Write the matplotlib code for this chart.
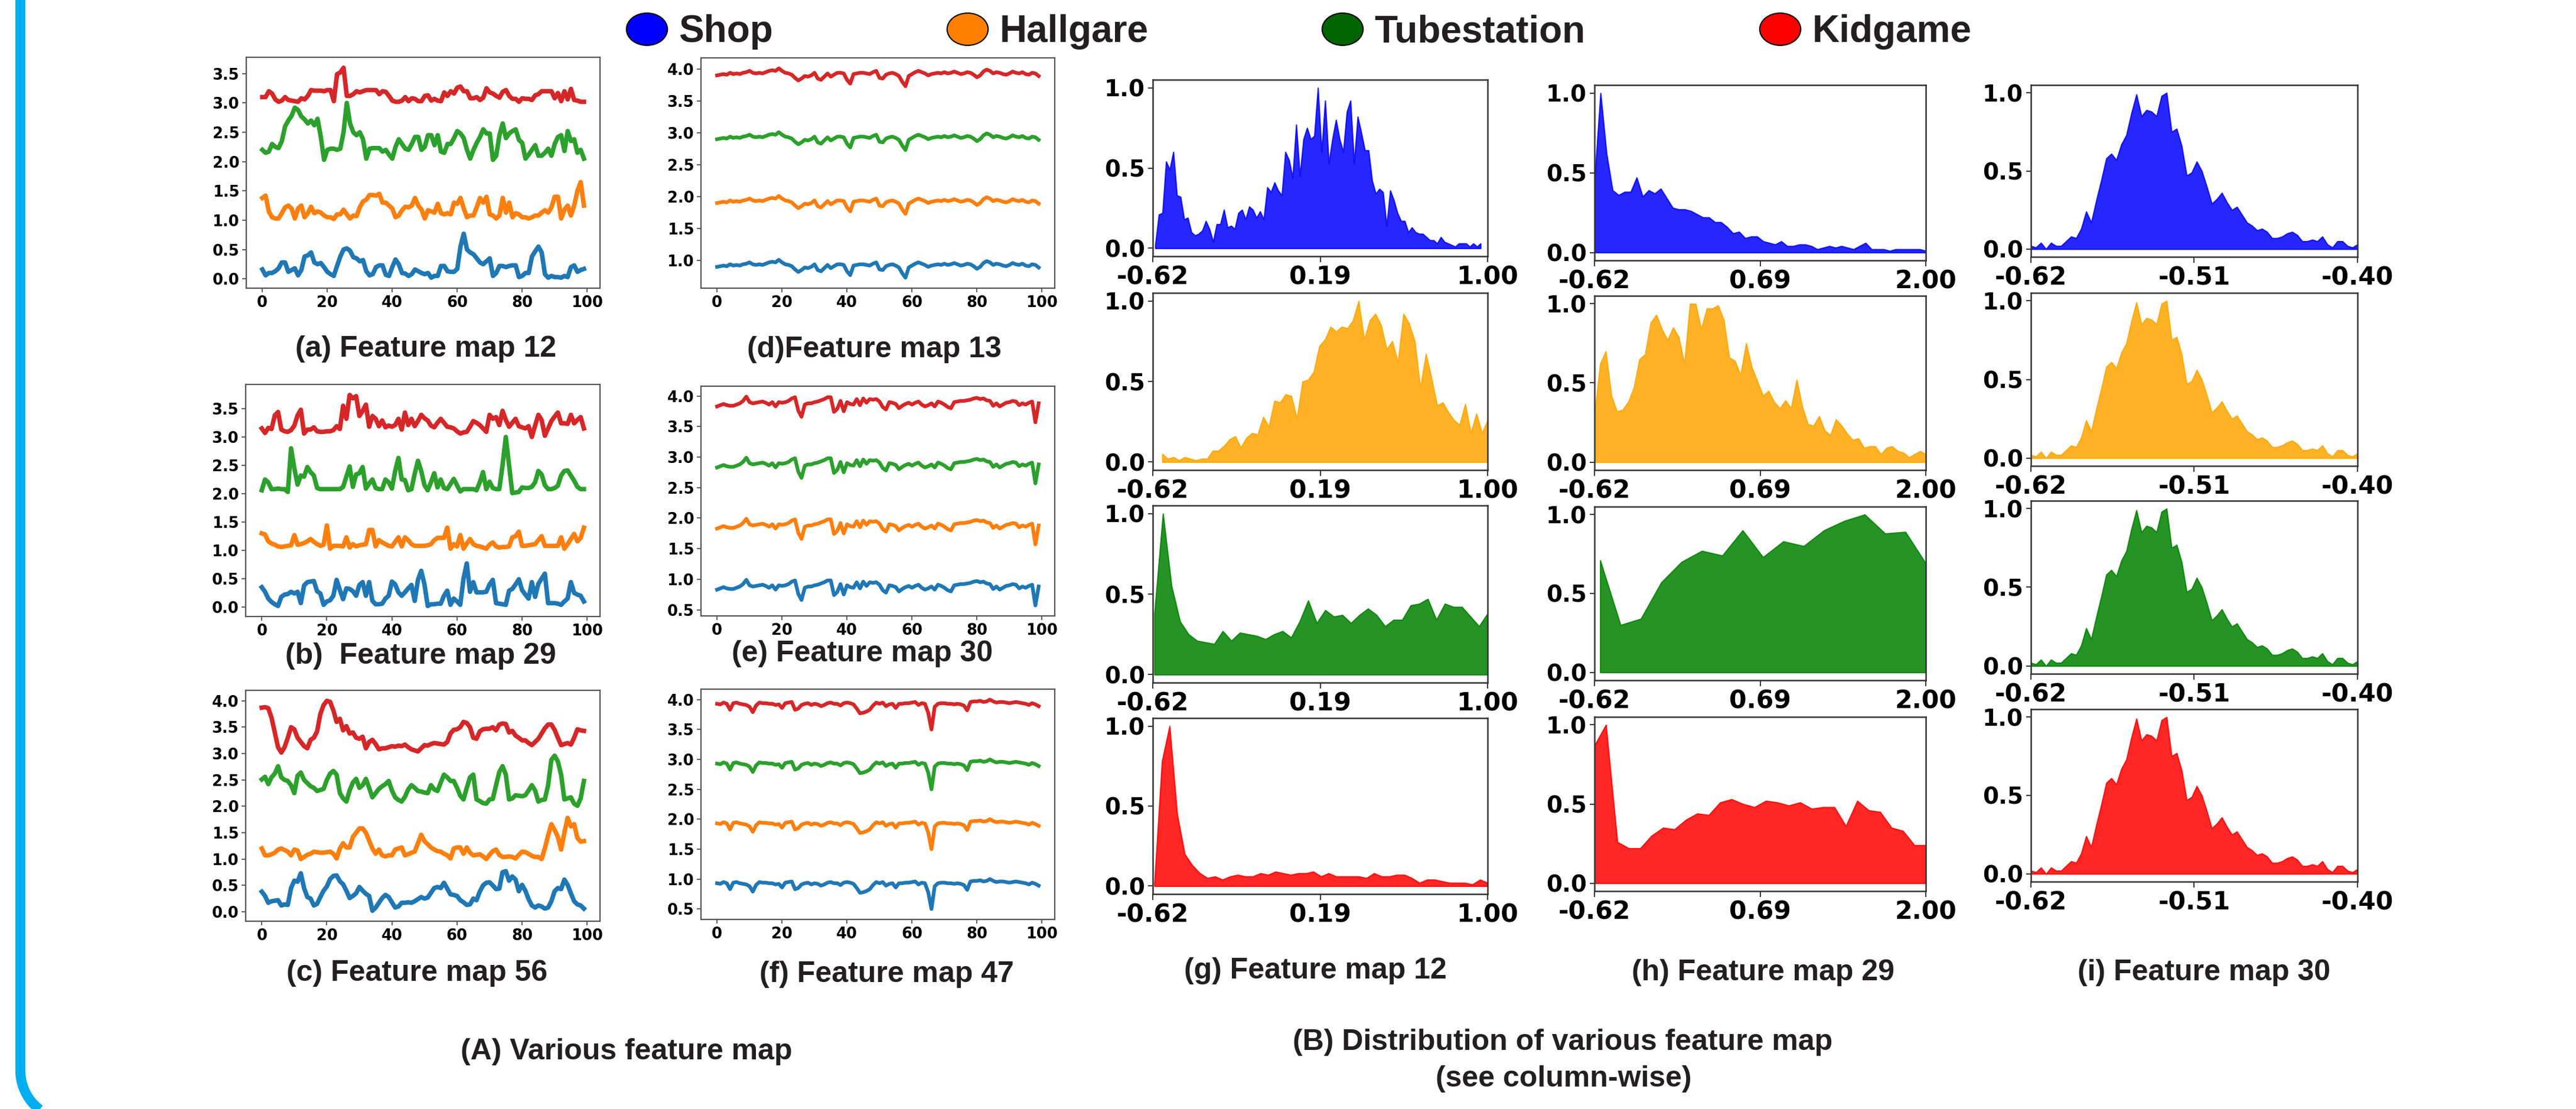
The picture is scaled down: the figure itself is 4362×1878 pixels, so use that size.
"""Feature map traces (A) and per-class feature map distributions (B)."""

import numpy as np
import matplotlib

matplotlib.use("Agg")
import matplotlib.pyplot as plt
from matplotlib.lines import Line2D
from matplotlib.path import Path
from matplotlib.ticker import MultipleLocator, FormatStrFormatter
from matplotlib.transforms import Affine2D

W, H = 4362, 1878

CLASSES = ["Shop", "Hallgare", "Tubestation", "Kidgame"]
CLASS_COLORS = ["#0000ff", "#ff8000", "#006400", "#ff0000"]
TRACE_COLORS = ["tab:blue", "tab:orange", "tab:green", "tab:red"]
FILL_COLORS = ["blue", "orange", "green", "red"]

STEPS = np.arange(100)

# ---- (a) feature map 12, one trace per class (already stacked) ----
FM12_SHOP = [0.16, 0.06, 0.10, 0.10, 0.13, 0.18, 0.28, 0.28, 0.12, 0.15,
             0.18, 0.06, 0.15, 0.38, 0.40, 0.45, 0.28, 0.25, 0.27, 0.20,
             0.12, 0.08, 0.05, 0.22, 0.38, 0.50, 0.52, 0.48, 0.37, 0.35,
             0.30, 0.32, 0.13, 0.06, 0.08, 0.20, 0.23, 0.23, 0.07, 0.05,
             0.20, 0.33, 0.25, 0.10, 0.09, 0.05, 0.08, 0.16, 0.13, 0.10,
             0.08, 0.10, 0.02, 0.05, 0.05, 0.22, 0.22, 0.13, 0.12, 0.12,
             0.17, 0.55, 0.77, 0.50, 0.45, 0.42, 0.35, 0.28, 0.25, 0.30,
             0.35, 0.05, 0.10, 0.22, 0.22, 0.20, 0.22, 0.23, 0.23, 0.03,
             0.05, 0.10, 0.10, 0.38, 0.47, 0.55, 0.45, 0.08, 0.02, 0.05,
             0.03, 0.03, 0.02, 0.05, 0.03, 0.20, 0.23, 0.12, 0.15, 0.17]
FM12_HALLGARE = [1.38, 1.42, 1.15, 1.05, 1.03, 1.03, 1.12, 1.22, 1.25, 1.20,
                 1.03, 1.20, 1.25, 1.05, 1.12, 1.23, 1.12, 1.15, 1.13, 1.08,
                 1.05, 1.05, 1.02, 1.10, 1.10, 1.18, 1.10, 1.03, 1.08, 1.07,
                 1.22, 1.32, 1.35, 1.43, 1.43, 1.42, 1.45, 1.30, 1.30, 1.25,
                 1.20, 1.05, 1.08, 1.17, 1.23, 1.22, 1.25, 1.38, 1.25, 1.18,
                 1.03, 1.17, 1.15, 1.13, 1.28, 1.12, 1.10, 1.12, 1.10, 1.30,
                 1.28, 1.38, 1.20, 1.05, 1.08, 1.08, 1.22, 1.38, 1.30, 1.40,
                 1.10, 1.08, 1.03, 1.08, 1.38, 1.13, 1.30, 1.05, 1.12, 1.10,
                 1.05, 1.05, 1.03, 1.05, 1.08, 1.08, 1.13, 1.17, 1.13, 1.22,
                 1.40, 1.40, 1.03, 1.18, 1.25, 1.08, 1.25, 1.50, 1.65, 1.25]
FM12_TUBE = [2.20, 2.15, 2.17, 2.30, 2.25, 2.23, 2.35, 2.60, 2.70, 2.78,
             2.92, 2.88, 2.77, 2.72, 2.65, 2.70, 2.62, 2.73, 2.42, 2.03,
             2.20, 2.22, 2.22, 2.20, 2.22, 2.50, 3.00, 2.65, 2.50, 2.45,
             2.50, 2.38, 2.05, 2.22, 2.23, 2.23, 2.23, 2.17, 2.20, 2.12,
             2.05, 2.25, 2.38, 2.30, 2.22, 2.20, 2.30, 2.42, 2.42, 2.20,
             2.25, 2.45, 2.45, 2.28, 2.45, 2.17, 2.15, 2.30, 2.30, 2.40,
             2.52, 2.48, 2.40, 2.20, 2.05, 2.20, 2.32, 2.42, 2.55, 2.48,
             2.48, 2.03, 2.10, 2.45, 2.65, 2.40, 2.48, 2.52, 2.55, 2.37,
             2.32, 2.05, 2.12, 2.20, 2.28, 2.10, 2.10, 2.15, 2.22, 2.10,
             2.30, 2.42, 2.45, 2.18, 2.52, 2.35, 2.38, 2.15, 2.20, 2.05]
FM12_KID = [3.10, 3.10, 3.20, 3.16, 3.06, 3.02, 3.04, 3.10, 3.05, 3.04,
            3.03, 3.02, 3.08, 3.06, 3.12, 3.22, 3.21, 3.21, 3.21, 3.20,
            3.22, 3.22, 3.03, 3.49, 3.52, 3.60, 3.12, 3.12, 3.15, 3.20,
            3.18, 3.20, 3.22, 3.22, 3.22, 3.22, 3.15, 3.20, 3.19, 3.12,
            3.04, 3.02, 3.02, 3.04, 3.10, 3.03, 3.08, 3.07, 3.03, 3.03,
            3.12, 3.13, 3.04, 3.07, 3.04, 3.03, 3.18, 3.12, 3.20, 3.16,
            3.26, 3.28, 3.20, 3.20, 3.08, 3.08, 3.10, 3.05, 3.09, 3.25,
            3.18, 3.16, 3.12, 3.09, 3.19, 3.22, 3.12, 3.07, 3.07, 3.02,
            3.08, 3.07, 3.07, 3.05, 3.13, 3.15, 3.20, 3.20, 3.20, 3.20,
            3.08, 3.17, 3.03, 3.20, 3.06, 3.24, 3.05, 3.04, 3.02, 3.02]

# ---- (b) feature map 29 ----
FM29_SHOP = [0.35, 0.27, 0.15, 0.09, 0.05, 0.02, 0.18, 0.22, 0.23, 0.27,
             0.24, 0.27, 0.07, 0.38, 0.44, 0.45, 0.46, 0.28, 0.24, 0.04,
             0.10, 0.12, 0.20, 0.48, 0.30, 0.14, 0.33, 0.32, 0.28, 0.20,
             0.39, 0.44, 0.20, 0.44, 0.11, 0.05, 0.05, 0.06, 0.15, 0.20,
             0.45, 0.40, 0.26, 0.20, 0.26, 0.33, 0.39, 0.11, 0.48, 0.64,
             0.40, 0.02, 0.05, 0.05, 0.06, 0.06, 0.20, 0.29, 0.04, 0.15,
             0.10, 0.04, 0.50, 0.77, 0.27, 0.44, 0.26, 0.26, 0.26, 0.27,
             0.40, 0.48, 0.07, 0.06, 0.05, 0.04, 0.29, 0.32, 0.40, 0.49,
             0.30, 0.22, 0.15, 0.44, 0.18, 0.41, 0.50, 0.59, 0.07, 0.07,
             0.07, 0.06, 0.04, 0.10, 0.15, 0.44, 0.25, 0.22, 0.20, 0.10]
FM29_HALLGARE = [1.30, 1.28, 1.16, 1.12, 1.10, 1.07, 1.06, 1.07, 1.08, 1.09,
                 1.27, 1.10, 1.11, 1.13, 1.16, 1.20, 1.15, 1.11, 1.08, 1.10,
                 1.44, 1.03, 1.08, 1.08, 1.08, 1.07, 1.23, 1.05, 1.11, 1.07,
                 1.09, 1.10, 1.11, 1.36, 1.36, 1.07, 1.18, 1.14, 1.11, 1.08,
                 1.07, 1.15, 1.23, 1.07, 1.23, 1.18, 1.11, 1.08, 1.08, 1.08,
                 1.08, 1.09, 1.11, 1.18, 1.22, 1.22, 1.22, 1.40, 1.03, 1.11,
                 1.07, 1.27, 1.03, 1.12, 1.20, 1.11, 1.08, 1.07, 1.05, 1.03,
                 1.10, 1.14, 1.07, 1.05, 1.06, 1.06, 1.07, 1.23, 1.25, 1.33,
                 1.08, 1.08, 1.09, 1.10, 1.11, 1.18, 1.25, 1.08, 1.08, 1.08,
                 1.08, 1.08, 1.23, 1.03, 1.11, 1.20, 1.29, 1.16, 1.22, 1.40]
FM29_TUBE = [2.06, 2.25, 2.20, 2.08, 2.08, 2.09, 2.08, 2.08, 2.03, 2.80,
             2.45, 2.16, 2.32, 2.30, 2.47, 2.38, 2.32, 2.10, 2.08, 2.08,
             2.08, 2.08, 2.08, 2.08, 2.08, 2.12, 2.30, 2.48, 2.12, 2.34,
             2.36, 2.47, 2.09, 2.18, 2.25, 2.10, 2.08, 2.08, 2.25, 2.20,
             2.09, 2.40, 2.63, 2.25, 2.24, 2.06, 2.08, 2.35, 2.58, 2.40,
             2.15, 2.06, 2.20, 2.36, 2.11, 2.25, 2.10, 2.08, 2.17, 2.26,
             2.15, 2.04, 2.08, 2.08, 2.08, 2.08, 2.06, 2.20, 2.38, 2.08,
             2.21, 2.10, 2.08, 2.08, 2.50, 3.00, 2.50, 2.01, 2.02, 2.03,
             2.11, 2.10, 2.10, 2.12, 2.20, 2.40, 2.34, 2.15, 2.08, 2.08,
             2.10, 2.14, 2.32, 2.40, 2.41, 2.32, 2.23, 2.12, 2.08, 2.08]
FM29_KID = [3.15, 3.07, 3.16, 3.14, 3.38, 3.44, 3.13, 3.10, 3.09, 3.12,
            3.20, 3.38, 3.48, 3.06, 3.13, 3.13, 3.17, 3.10, 3.09, 3.09,
            3.10, 3.10, 3.12, 3.19, 3.14, 3.55, 3.32, 3.74, 3.68, 3.72,
            3.37, 3.46, 3.57, 3.18, 3.37, 3.32, 3.19, 3.29, 3.17, 3.20,
            3.18, 3.21, 3.32, 3.13, 3.43, 3.21, 3.32, 3.19, 3.28, 3.39,
            3.33, 3.29, 3.20, 3.17, 3.25, 3.32, 3.25, 3.18, 3.17, 3.15,
            3.10, 3.06, 3.08, 3.09, 3.18, 3.28, 3.25, 3.21, 3.15, 3.09,
            3.39, 3.32, 3.35, 3.21, 3.46, 3.30, 3.18, 3.25, 3.32, 3.19,
            3.17, 3.15, 3.19, 3.00, 3.20, 3.39, 3.30, 3.02, 3.15, 3.28,
            3.36, 3.43, 3.24, 3.24, 3.23, 3.39, 3.24, 3.30, 3.35, 3.15]

# ---- (c) feature map 56 ----
FM56_SHOP = [0.38, 0.30, 0.17, 0.20, 0.21, 0.22, 0.12, 0.14, 0.13, 0.45,
             0.59, 0.57, 0.73, 0.45, 0.28, 0.25, 0.12, 0.15, 0.28, 0.40,
             0.48, 0.62, 0.68, 0.69, 0.58, 0.52, 0.40, 0.26, 0.30, 0.35,
             0.47, 0.40, 0.34, 0.30, 0.02, 0.08, 0.17, 0.26, 0.32, 0.28,
             0.18, 0.08, 0.10, 0.17, 0.17, 0.18, 0.17, 0.20, 0.24, 0.28,
             0.25, 0.27, 0.36, 0.45, 0.47, 0.45, 0.55, 0.44, 0.33, 0.32,
             0.30, 0.22, 0.18, 0.13, 0.14, 0.25, 0.22, 0.38, 0.50, 0.55,
             0.56, 0.50, 0.43, 0.44, 0.75, 0.77, 0.59, 0.67, 0.61, 0.39,
             0.51, 0.40, 0.24, 0.12, 0.08, 0.12, 0.10, 0.06, 0.08, 0.20,
             0.39, 0.45, 0.43, 0.61, 0.51, 0.35, 0.20, 0.14, 0.12, 0.06]
FM56_HALLGARE = [1.20, 1.07, 1.07, 1.09, 1.12, 1.18, 1.20, 1.17, 1.14, 1.07,
                 1.18, 1.16, 1.00, 1.04, 1.08, 1.10, 1.14, 1.13, 1.12, 1.12,
                 1.13, 1.14, 1.10, 1.01, 1.20, 1.30, 1.22, 1.22, 1.42, 1.50,
                 1.58, 1.58, 1.50, 1.35, 1.20, 1.10, 1.18, 1.07, 1.05, 1.07,
                 1.07, 1.18, 1.20, 1.22, 1.07, 1.09, 1.12, 1.14, 1.30, 1.46,
                 1.34, 1.28, 1.22, 1.18, 1.15, 1.14, 1.10, 1.07, 1.01, 1.20,
                 1.22, 1.22, 1.10, 1.22, 1.12, 1.07, 1.08, 1.09, 1.05, 1.00,
                 1.08, 1.15, 1.18, 1.08, 1.04, 1.04, 1.05, 1.04, 1.01, 1.08,
                 1.14, 1.13, 1.10, 1.06, 1.04, 1.04, 1.00, 1.20, 1.45, 1.66,
                 1.55, 1.42, 1.18, 1.50, 1.78, 1.62, 1.66, 1.40, 1.33, 1.34]
FM56_TUBE = [2.51, 2.56, 2.42, 2.55, 2.62, 2.76, 2.55, 2.50, 2.48, 2.40,
             2.25, 2.58, 2.64, 2.50, 2.44, 2.38, 2.35, 2.29, 2.31, 2.33,
             2.50, 2.62, 2.67, 2.60, 2.25, 2.15, 2.09, 2.30, 2.45, 2.52,
             2.35, 2.40, 2.52, 2.35, 2.17, 2.25, 2.33, 2.38, 2.42, 2.48,
             2.30, 2.17, 2.12, 2.09, 2.18, 2.32, 2.40, 2.35, 2.29, 2.28,
             2.26, 2.25, 2.40, 2.32, 2.29, 2.45, 2.60, 2.55, 2.48, 2.48,
             2.35, 2.20, 2.13, 2.35, 2.55, 2.60, 2.13, 2.10, 2.06, 2.05,
             2.13, 2.14, 2.40, 2.65, 2.76, 2.60, 2.13, 2.15, 2.21, 2.20,
             2.19, 2.21, 2.30, 2.40, 2.30, 2.09, 2.12, 2.13, 2.40, 2.88,
             2.96, 2.85, 2.60, 2.13, 2.15, 2.17, 2.05, 2.01, 2.15, 2.48]
FM56_KID = [3.87, 3.88, 3.86, 3.68, 3.40, 3.12, 3.02, 3.12, 3.30, 3.50,
            3.46, 3.30, 3.22, 3.14, 3.10, 3.26, 3.30, 3.42, 3.75, 3.92,
            4.00, 3.98, 3.82, 3.60, 3.66, 3.44, 3.52, 3.38, 3.40, 3.30,
            3.28, 3.32, 3.10, 3.22, 3.26, 3.18, 3.08, 3.10, 3.10, 3.12,
            3.14, 3.13, 3.15, 3.14, 3.17, 3.12, 3.08, 3.06, 3.04, 3.10,
            3.16, 3.15, 3.18, 3.20, 3.19, 3.18, 3.17, 3.22, 3.38, 3.45,
            3.46, 3.50, 3.60, 3.58, 3.50, 3.30, 3.28, 3.42, 3.46, 3.47,
            3.47, 3.50, 3.44, 3.55, 3.57, 3.56, 3.40, 3.43, 3.34, 3.30,
            3.25, 3.25, 3.20, 3.16, 3.22, 3.28, 3.38, 3.48, 3.55, 3.55,
            3.45, 3.30, 3.16, 3.18, 3.20, 3.17, 3.30, 3.46, 3.44, 3.43]

# ---- (d)-(f): the four class traces share one profile, stacked by class ----
STACK_SHIFT = [0, 1, 2, 3]
FM13_PROFILE = [0.90, 0.91, 0.92, 0.91, 0.94, 0.92, 0.93, 0.92, 0.94, 0.95,
                0.97, 0.94, 0.93, 0.94, 0.93, 0.95, 0.97, 0.98, 0.97, 1.01,
                0.97, 0.94, 0.93, 0.91, 0.86, 0.82, 0.85, 0.89, 0.88, 0.90,
                0.94, 0.85, 0.83, 0.88, 0.93, 0.88, 0.91, 0.94, 0.94, 0.93,
                0.83, 0.77, 0.92, 0.93, 0.94, 0.94, 0.93, 0.92, 0.95, 0.97,
                0.86, 0.85, 0.91, 0.93, 0.94, 0.92, 0.89, 0.80, 0.73, 0.89,
                0.92, 0.95, 0.97, 0.95, 0.93, 0.90, 0.92, 0.93, 0.94, 0.93,
                0.95, 0.93, 0.94, 0.96, 0.94, 0.92, 0.93, 0.95, 0.94, 0.91,
                0.87, 0.90, 0.96, 0.99, 0.97, 0.93, 0.95, 0.94, 0.92, 0.91,
                0.93, 0.96, 0.94, 0.93, 0.95, 0.92, 0.91, 0.94, 0.93, 0.89]
FM30_PROFILE = [0.83, 0.85, 0.87, 0.85, 0.84, 0.84, 0.86, 0.88, 0.92, 0.99,
                0.90, 0.88, 0.89, 0.90, 0.91, 0.89, 0.86, 0.90, 0.83, 0.90,
                0.89, 0.90, 0.92, 0.96, 0.98, 0.76, 0.66, 0.86, 0.88, 0.88,
                0.90, 0.91, 0.93, 0.95, 0.98, 0.98, 0.74, 0.79, 0.92, 0.75,
                0.90, 0.87, 0.86, 0.95, 0.85, 0.96, 0.89, 0.95, 0.94, 0.95,
                0.91, 0.82, 0.78, 0.90, 0.89, 0.87, 0.80, 0.84, 0.87, 0.89,
                0.86, 0.89, 0.91, 0.86, 0.83, 0.85, 0.88, 0.83, 0.91, 0.89,
                0.86, 0.82, 0.80, 0.90, 0.91, 0.92, 0.92, 0.93, 0.94, 0.96,
                0.97, 0.95, 0.96, 0.93, 0.92, 0.84, 0.88, 0.83, 0.86, 0.89,
                0.90, 0.92, 0.91, 0.85, 0.88, 0.86, 0.89, 0.91, 0.57, 0.88]
FM47_PROFILE = [0.93, 0.92, 0.95, 0.93, 0.83, 0.94, 0.95, 0.93, 0.92, 0.91,
                0.88, 0.79, 0.90, 0.95, 0.94, 0.94, 0.93, 0.93, 0.91, 0.92,
                0.86, 0.94, 0.95, 0.96, 0.83, 0.85, 0.91, 0.93, 0.94, 0.91,
                0.93, 0.92, 0.89, 0.91, 0.94, 0.95, 0.93, 0.93, 0.90, 0.94,
                0.95, 0.94, 0.92, 0.85, 0.77, 0.78, 0.80, 0.83, 0.90, 0.95,
                0.93, 0.95, 0.89, 0.92, 0.93, 0.86, 0.93, 0.93, 0.94, 0.94,
                0.95, 0.96, 0.91, 0.94, 0.93, 0.78, 0.50, 0.88, 0.93, 0.94,
                0.94, 0.93, 0.93, 0.92, 0.93, 0.92, 0.90, 0.82, 0.96, 0.97,
                0.97, 0.98, 0.96, 0.97, 1.00, 0.97, 0.95, 0.96, 0.96, 0.95,
                0.94, 0.95, 0.96, 0.95, 0.94, 0.93, 0.91, 0.94, 0.92, 0.89]

# ---- (g)-(i): normalised histograms (first / last bin centre, bin heights) ----
G_RANGE = [(-0.608, 0.966), (-0.574, 1.0), (-0.612, 1.0), (-0.612, 1.0)]
G_SHOP = [0.02, 0.21, 0.22, 0.54, 0.49, 0.60, 0.33, 0.32, 0.18, 0.19,
          0.10, 0.08, 0.09, 0.11, 0.17, 0.12, 0.04, 0.15, 0.15, 0.24,
          0.13, 0.14, 0.12, 0.22, 0.24, 0.18, 0.26, 0.24, 0.19, 0.23,
          0.18, 0.38, 0.35, 0.41, 0.36, 0.33, 0.60, 0.55, 0.44, 0.77,
          0.45, 0.68, 0.75, 0.68, 0.70, 1.00, 0.60, 0.92, 0.53, 0.68,
          0.80, 0.68, 0.60, 0.85, 0.92, 0.53, 0.82, 0.72, 0.61, 0.61,
          0.42, 0.34, 0.37, 0.35, 0.14, 0.36, 0.30, 0.22, 0.17, 0.17,
          0.10, 0.13, 0.10, 0.09, 0.09, 0.07, 0.05, 0.05, 0.03, 0.07,
          0.04, 0.03, 0.02, 0.01, 0.03, 0.03, 0.03, 0.01, 0.03, 0.01, 0.03]
G_HALLGARE = [0.05, 0.02, 0.03, 0.01, 0.03, 0.02, 0.01, 0.02, 0.02, 0.07,
              0.07, 0.10, 0.14, 0.16, 0.09, 0.15, 0.18, 0.17, 0.28, 0.22,
              0.38, 0.37, 0.42, 0.41, 0.27, 0.50, 0.51, 0.56, 0.72, 0.76,
              0.84, 0.81, 0.84, 0.83, 0.88, 1.00, 0.76, 0.88, 0.92, 0.85,
              0.70, 0.75, 0.62, 0.92, 0.86, 0.75, 0.46, 0.67, 0.52, 0.35,
              0.37, 0.31, 0.26, 0.23, 0.36, 0.18, 0.30, 0.18, 0.26]
G_TUBE = [0.38, 1.00, 0.55, 0.33, 0.25, 0.21, 0.20, 0.19, 0.27, 0.21,
          0.26, 0.25, 0.24, 0.22, 0.25, 0.27, 0.23, 0.33, 0.46, 0.32,
          0.40, 0.36, 0.37, 0.32, 0.37, 0.41, 0.37, 0.30, 0.34, 0.34,
          0.43, 0.44, 0.47, 0.34, 0.44, 0.42, 0.42, 0.36, 0.30, 0.38]
G_KID = [0.02, 0.78, 1.00, 0.45, 0.20, 0.13, 0.08, 0.05, 0.06, 0.04,
         0.06, 0.07, 0.06, 0.06, 0.08, 0.07, 0.09, 0.08, 0.07, 0.08,
         0.08, 0.09, 0.06, 0.08, 0.06, 0.06, 0.06, 0.06, 0.05, 0.08,
         0.06, 0.06, 0.07, 0.07, 0.05, 0.02, 0.04, 0.04, 0.03, 0.02,
         0.02, 0.02, 0.01, 0.04, 0.02]

H_RANGE = [(-0.62, 2.0), (-0.62, 2.0), (-0.575, 2.0), (-0.62, 2.0)]
H_SHOP = [0.45, 1.00, 0.62, 0.39, 0.36, 0.38, 0.38, 0.47, 0.35, 0.39,
          0.37, 0.40, 0.34, 0.28, 0.27, 0.27, 0.26, 0.24, 0.22, 0.22,
          0.19, 0.19, 0.16, 0.12, 0.13, 0.09, 0.10, 0.10, 0.07, 0.06,
          0.05, 0.07, 0.04, 0.04, 0.05, 0.05, 0.04, 0.02, 0.03, 0.04,
          0.03, 0.04, 0.03, 0.02, 0.04, 0.06, 0.02, 0.02, 0.02, 0.01,
          0.02, 0.02, 0.02, 0.02, 0.02, 0.01]
H_HALLGARE = [0.30, 0.62, 0.70, 0.42, 0.32, 0.33, 0.38, 0.47, 0.65, 0.68,
              0.88, 0.93, 0.84, 0.77, 0.85, 0.79, 0.62, 1.00, 1.00, 0.84,
              0.97, 0.97, 0.99, 0.90, 0.66, 0.64, 0.55, 0.75, 0.60, 0.51,
              0.42, 0.45, 0.38, 0.34, 0.39, 0.34, 0.52, 0.35, 0.24, 0.23,
              0.29, 0.20, 0.17, 0.27, 0.23, 0.18, 0.14, 0.15, 0.09, 0.10,
              0.10, 0.05, 0.09, 0.10, 0.07, 0.06, 0.03, 0.05, 0.07, 0.05]
H_TUBE = [0.71, 0.30, 0.34, 0.57, 0.70, 0.77, 0.74, 0.90, 0.73, 0.83,
          0.80, 0.90, 0.96, 1.00, 0.88, 0.89, 0.69]
H_KID = [0.87, 1.00, 0.26, 0.22, 0.22, 0.30, 0.35, 0.34, 0.40, 0.44,
         0.43, 0.51, 0.53, 0.50, 0.48, 0.52, 0.51, 0.49, 0.51, 0.47,
         0.48, 0.48, 0.36, 0.52, 0.46, 0.45, 0.35, 0.33, 0.24, 0.24]

# feature map 30 looks the same for all four classes
I_RANGE = (-0.62, -0.40)
I_ALL = [0.02, 0.01, 0.04, 0.00, 0.04, 0.02, 0.02, 0.05, 0.08, 0.07,
         0.13, 0.24, 0.17, 0.31, 0.44, 0.58, 0.61, 0.57, 0.67, 0.73,
         0.87, 0.99, 0.85, 0.89, 0.88, 0.85, 0.98, 1.00, 0.75, 0.77,
         0.66, 0.47, 0.49, 0.56, 0.50, 0.40, 0.29, 0.32, 0.36, 0.30,
         0.25, 0.27, 0.22, 0.17, 0.15, 0.12, 0.13, 0.11, 0.07, 0.07,
         0.08, 0.10, 0.11, 0.09, 0.05, 0.05, 0.06, 0.05, 0.08, 0.03,
         0.01, 0.05, 0.05, 0.02, 0.01, 0.03]

G_TICKS = [-0.62, 0.19, 1.00]
H_TICKS = [-0.62, 0.69, 2.00]
I_TICKS = [-0.62, -0.51, -0.40]

TITLE_FONT = ["Liberation Sans", "DejaVu Sans"]
INK = "#231f20"


def px_axes(fig, box):
    left, top, right, bottom = box
    return fig.add_axes([left / W, 1 - bottom / H, (right - left) / W, (bottom - top) / H])


def style_spines(ax, color, lw):
    for spine in ax.spines.values():
        spine.set_color(color)
        spine.set_linewidth(lw)


def trace_panel(fig, box, series, lw):
    ax = px_axes(fig, box)
    for values, color in zip(series, TRACE_COLORS):
        ax.plot(STEPS, values, color=color, lw=lw, solid_joinstyle="round")
    ax.set_xticks([0, 20, 40, 60, 80, 100])
    ax.yaxis.set_major_locator(MultipleLocator(0.5))
    ax.yaxis.set_major_formatter(FormatStrFormatter("%.1f"))
    ax.tick_params(labelsize=18.5, length=5, width=1.2, color="#444444")
    style_spines(ax, "#555555", 1.6)
    return ax


def dist_panel(fig, box, values, x_range, color, ticks):
    ax = px_axes(fig, box)
    x = np.linspace(x_range[0], x_range[1], len(values))
    ax.fill_between(x, 0, values, color=color, alpha=0.85, lw=1.5)
    ax.set_xlim(ticks[0], ticks[-1])
    ax.set_xticks(ticks)
    ax.set_xticklabels([f"{t:.2f}" for t in ticks])
    ax.set_yticks([0.0, 0.5, 1.0])
    ax.tick_params(axis="x", labelsize=30.5, length=7, width=1.4, color="#333333")
    ax.tick_params(axis="y", labelsize=28, length=6, width=1.4, color="#333333")
    style_spines(ax, "#333333", 1.8)
    return ax


def draw_frame(fig):
    # cyan rule down the left edge, turning the corner at the bottom
    frame = fig.add_axes([0, 0, 1, 1], zorder=-5)
    frame.set_xlim(0, W)
    frame.set_ylim(H, 0)
    frame.axis("off")
    x0, y_turn, r = 34.5, 1813, 83
    t = np.linspace(np.pi, np.pi / 2, 40)
    xs = np.concatenate([[x0], x0 + r + r * np.cos(t), [x0 + r + 400]])
    ys = np.concatenate([[-20], y_turn + r * np.sin(t), [y_turn + r]])
    frame.plot(xs, ys, color="#00aeef", lw=12.2, solid_capstyle="butt")


def main():
    plt.rcParams["font.weight"] = "bold"
    fig = plt.figure(figsize=(W / 100, H / 100), dpi=100)
    draw_frame(fig)

    # panel A: traces
    trace_panel(fig, (417, 97, 1016, 488), [FM12_SHOP, FM12_HALLGARE, FM12_TUBE, FM12_KID], 5.5)
    trace_panel(fig, (416, 651, 1016, 1044), [FM29_SHOP, FM29_HALLGARE, FM29_TUBE, FM29_KID], 5.5)
    trace_panel(fig, (416, 1169, 1016, 1560), [FM56_SHOP, FM56_HALLGARE, FM56_TUBE, FM56_KID], 5.5)
    for box, profile in [((1187, 98, 1786, 488), FM13_PROFILE),
                         ((1187, 654, 1786, 1043), FM30_PROFILE),
                         ((1187, 1167, 1786, 1557), FM47_PROFILE)]:
        trace_panel(fig, box, [np.add(profile, s) for s in STACK_SHIFT], 4.5)

    # panel B: distributions, one column per feature map
    columns = [
        (1952, 2519, [(135, 434), (496, 796), (856, 1156), (1216, 1514)],
         [G_SHOP, G_HALLGARE, G_TUBE, G_KID], G_RANGE, G_TICKS),
        (2700, 3261, [(144, 441), (501, 796), (858, 1152), (1214, 1509)],
         [H_SHOP, H_HALLGARE, H_TUBE, H_KID], H_RANGE, H_TICKS),
        (3439, 3992, [(144, 435), (496, 789), (848, 1141), (1201, 1493)],
         [I_ALL] * 4, [I_RANGE] * 4, I_TICKS),
    ]
    for left, right, rows, data, ranges, ticks in columns:
        for (top, bottom), values, xr, color in zip(rows, data, ranges, FILL_COLORS):
            dist_panel(fig, (left, top, right, bottom), values, xr, color, ticks)

    titles = [
        ("(a) Feature map 12", 721, 591), ("(b)  Feature map 29", 712, 1111),
        ("(c) Feature map 56", 706, 1648), ("(d)Feature map 13", 1480, 592),
        ("(e) Feature map 30", 1460, 1107), ("(f) Feature map 47", 1501, 1650),
        ("(g) Feature map 12", 2227, 1644), ("(h) Feature map 29", 2985, 1647),
        ("(i) Feature map 30", 3732, 1647), ("(A) Various feature map", 1061, 1781),
        ("(B) Distribution of various feature map", 2646, 1765),
        ("(see column-wise)", 2648, 1827),
    ]
    for text, x, y in titles:
        fig.text(x / W, 1 - y / H, text, ha="center", va="center", fontsize=36,
                 family=TITLE_FONT, weight="bold", color=INK)

    ellipse = Path.unit_circle().transformed(Affine2D().scale(1.27, 1.0))
    handles = [Line2D([], [], ls="none", marker=ellipse, markersize=50, markerfacecolor=c,
                      markeredgecolor="black", markeredgewidth=1.5) for c in CLASS_COLORS]
    fig.legend(handles, CLASSES, loc="center", bbox_to_anchor=(2199 / W, 1 - 54 / H), ncol=4,
               frameon=False, handlelength=1.1, handletextpad=0.3, columnspacing=4.6, borderpad=0,
               prop={"family": TITLE_FONT, "weight": "bold", "size": 46}, labelcolor=INK)

    fig.savefig("out.png", dpi=100)
    plt.close(fig)


if __name__ == "__main__":
    main()
